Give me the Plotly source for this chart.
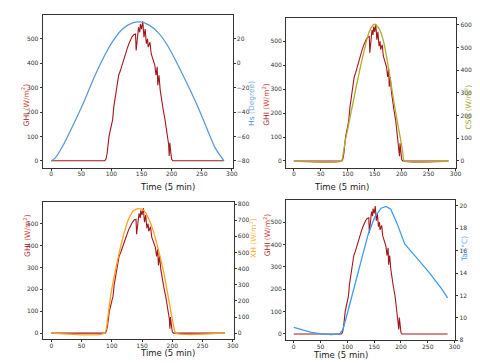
import plotly.graph_objects as go

# one day of 5 min samples (index 0..287)
ghi_t = [0, 89, 91, 93, 96, 99, 102, 104, 107, 110, 112, 115, 118, 121, 123, 126, 129, 131, 134, 137,
         140, 141, 143, 145, 147, 148, 150, 152, 154, 156, 158, 160, 161, 164, 166, 168, 170, 172, 174, 176,
         177, 179, 181, 183, 186, 189, 191, 194, 195, 196, 197, 198, 200, 202, 287]
ghi = [0, 0, 8, 34, 101, 142, 169, 223, 277, 310, 351, 371, 398, 419, 439, 459, 480, 493, 507, 517,
       520, 452, 507, 547, 527, 561, 540, 572, 507, 540, 480, 500, 466, 486, 439, 426, 405, 392, 351, 385,
       310, 351, 290, 250, 209, 169, 128, 88, 67, 20, 74, 47, 6, 0, 0]

# solar elevation (degree)
hs_t = [0, 6, 20, 36, 53, 69, 85, 102, 118, 134, 148, 162, 178, 194, 210, 227, 243, 259, 273, 287]
hs = [-80, -78, -67, -51, -33, -14, 3, 18, 28, 33, 34, 31.5, 25, 14, -1, -18, -35, -54, -70, -80]

# clear sky GHI
csg_t = [0, 88, 92, 96, 100, 105, 110, 115, 120, 125, 130, 135, 140, 145, 149, 153, 158, 163, 168, 173,
         178, 183, 188, 193, 198, 202, 205, 287]
csg = [0, 0, 40, 95, 140, 200, 258, 318, 375, 430, 480, 530, 570, 592, 602, 598, 584, 555, 510, 445,
       375, 300, 228, 160, 95, 40, 0, 0]

# extraterrestrial horizontal irradiance
xh_t = [0, 88, 93, 98, 104, 112, 120, 128, 136, 145, 153, 161, 169, 177, 186, 194, 202, 206, 287]
xh = [0, 0, 88, 230, 353, 495, 617, 709, 760, 772, 760, 709, 628, 516, 373, 210, 47, 0, 0]

# ambient temperature
ta_t = [0, 14, 33, 52, 70, 86, 92, 101, 114, 126, 139, 151, 163, 172, 181, 193, 207, 227, 252, 276, 287]
ta = [9.16, 9.0, 8.72, 8.58, 8.52, 8.58, 9.0, 10.6, 12.9, 15.2, 17.5, 19.0, 19.8, 19.95, 19.7, 18.4,
      16.6, 15.5, 14.1, 12.6, 11.8]

W, H = 480, 363
GHI_COLOR = "#a3161b"
AX = "#333333"
TICKFONT = dict(family="DejaVu Sans", size=6, color=AX)

# panel boxes in pixels: (x0, x1, y0, y1) from top-left
panels = [
    dict(box=(35, 227, 5, 160), t=hs_t, v=hs, color="#5b9bd5", rng=[-85.7, 39.7], tick0=-80, dtick=20, shape="spline"),
    dict(box=(281, 453, 8, 160), t=csg_t, v=csg, color="#b3aa2e", rng=[-30, 630], tick0=0, dtick=100, shape="spline"),
    dict(box=(35, 228, 195, 334), t=xh_t, v=xh, color="#ffa31a", rng=[-38.6, 811], tick0=0, dtick=100, shape="spline"),
    dict(box=(281, 452, 193, 335), t=ta_t, v=ta, color="#3d9cf5", rng=[8.0, 20.5], tick0=8, dtick=2, shape="linear"),
]

fig = go.Figure()
layout = {}
for k, p in enumerate(panels, start=1):
    x0, x1, y0, y1 = p["box"]
    xname = "x" if k == 1 else f"x{k}"
    yl = "y" if k == 1 else f"y{2 * k - 1}"
    yr = f"y{2 * k}"
    xdom = [x0 / W, x1 / W]
    ydom = [1 - y1 / H, 1 - y0 / H]

    fig.add_trace(go.Scatter(x=ghi_t, y=ghi, mode="lines", line=dict(color=GHI_COLOR, width=1.1),
                             xaxis=xname, yaxis=yl, showlegend=False))
    fig.add_trace(go.Scatter(x=p["t"], y=p["v"], mode="lines",
                             line=dict(color=p["color"], width=1.3, shape=p["shape"], smoothing=0.6),
                             xaxis=xname, yaxis=yr, showlegend=False))

    common = dict(showline=True, linecolor=AX, linewidth=1, ticks="outside", ticklen=2,
                  tickcolor=AX, tickfont=TICKFONT, showgrid=False, zeroline=False)
    layout["xaxis" if k == 1 else f"xaxis{k}"] = dict(
        domain=xdom, anchor=yl, range=[-14.35, 301.35], tick0=0, dtick=50, mirror=True,
        ticklabelstandoff=-2, **common)
    layout["yaxis" if k == 1 else f"yaxis{2 * k - 1}"] = dict(
        domain=ydom, anchor=xname, range=[-28.6, 598], tick0=0, dtick=100, mirror=True, **common)
    layout[f"yaxis{2 * k}"] = dict(
        overlaying=yl, side="right", anchor=xname, range=p["rng"], tick0=p["tick0"], dtick=p["dtick"], **common)

ghi_label = ('<span style="color:#a3161b">GHI</span> '
             '<span style="color:#d9433f">(W/m<sup>2</sup>)</span>')
labels = [
    (10, 72, ghi_label),
    (246, 70, '<span style="color:#4f8fcc">Hs</span> <span style="color:#79aee0">(Degree)</span>'),
    (260, 72, ghi_label),
    (472, 74, '<span style="color:#9ea22a">CSG</span> <span style="color:#a7ab3a">(W/m<sup>2</sup>)</span>'),
    (12, 252, ghi_label),
    (247, 253, '<span style="color:#ffa31a">XH</span> <span style="color:#ffb84d">(W/m<sup>2</sup>)</span>'),
    (262, 252, ghi_label),
    (468, 258, '<span style="color:#3d9cf5">Ta</span> <span style="color:#6cb4f7">(°C)</span>'),
]
ann = []
for x, y, txt in labels:
    ann.append(dict(x=x / W, y=1 - y / H, xref="paper", yref="paper", text=txt, textangle=-90,
                    showarrow=False, font=dict(family="DejaVu Sans", size=7.5)))
for x, y in [(131, 179), (367, 179), (131, 355), (366, 357)]:
    ann.append(dict(x=x / W, y=1 - y / H, xref="paper", yref="paper", text="Time (5 min)",
                    showarrow=False, font=dict(family="DejaVu Sans", size=8.5, color="#222222")))

fig.update_layout(width=W, height=H, margin=dict(l=0, r=0, t=0, b=0),
                  paper_bgcolor="white", plot_bgcolor="white", annotations=ann, **layout)

fig.write_html("out.html")
